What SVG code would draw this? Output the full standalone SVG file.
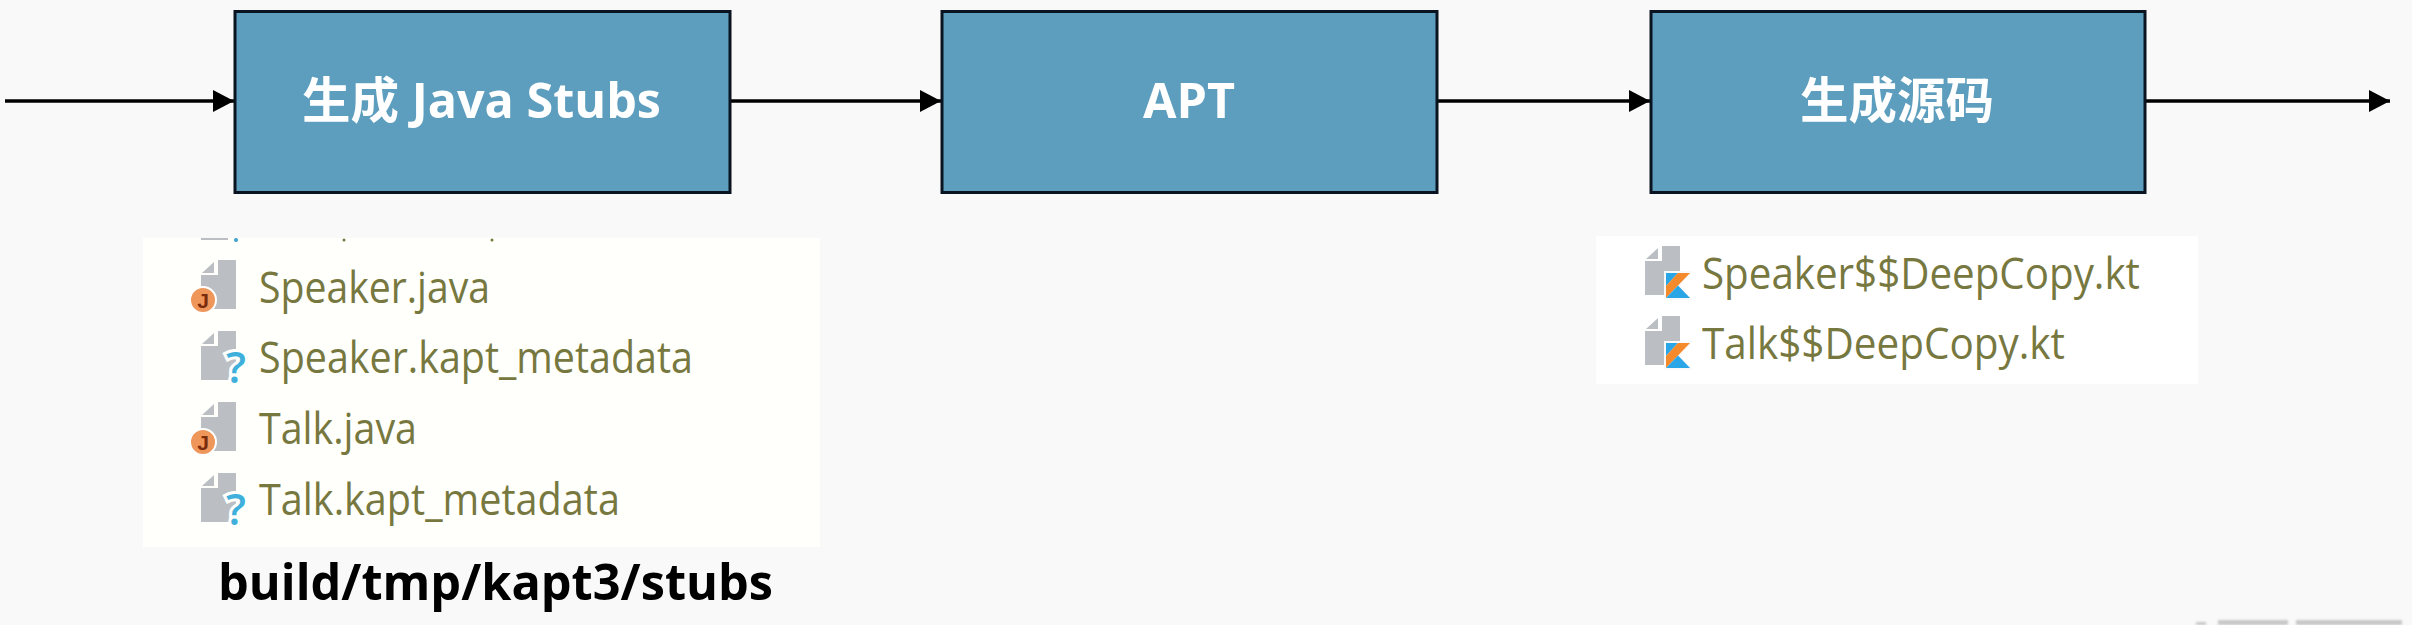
<svg xmlns="http://www.w3.org/2000/svg" width="2412" height="625" viewBox="0 0 2412 625">
<style>
.box{fill:#5d9dbd;stroke:#0a1420;stroke-width:3}
.lbl{font-family:"Open Sans","Noto Sans CJK SC",sans-serif;font-weight:700;font-size:48.500px;fill:#fff;text-anchor:middle}
.file{font-family:"Open Sans","Noto Sans",sans-serif;font-size:43px;fill:#77783f}
.path{font-family:"Open Sans","Noto Sans",sans-serif;font-weight:700;font-size:51px;fill:#000}
.conn{stroke:#000;stroke-width:3.500;fill:none;marker-end:url(#arrow)}
.doc{fill:#bbbfc3}
.j{font-family:"Liberation Sans",sans-serif;font-weight:700;font-size:21px;fill:#7a2c0c;text-anchor:middle}
.q{font-family:"Open Sans",sans-serif;font-weight:600;font-size:44px;fill:#3fb0dc;text-anchor:middle;stroke:#fffffb;stroke-width:6;paint-order:stroke}
.mark{fill:#c8c8c8}
</style>
<defs>
<marker id="arrow" markerUnits="userSpaceOnUse" markerWidth="22" markerHeight="24" refX="21" refY="12" orient="auto"><path d="M0 1L21 12L0 23Z" fill="#000"/></marker>
<filter id="soft" x="-5%" y="-100%" width="110%" height="300%"><feGaussianBlur stdDeviation="1.200"/></filter>
<g id="page"><path class="doc" d="M17 0H35V49H0V15H17Z"/><path class="doc" d="M13 2V13H1Z"/></g>
<g id="kt"><path d="M-2 -2H27L14 12.500L27 27H-2Z" fill="#f9f9f9"/><path d="M0 0H12L0 13Z" fill="#2aa6e6"/><path d="M12 0H24L0 25V13Z" fill="#f58a2c"/><path d="M0 25L12 12.500L24 25Z" fill="#2aa6e6"/></g>
</defs>
<rect width="2412" height="625" fill="#f9f9f9"/>
<g id="connectors">
<path class="conn" d="M5 101H234"/>
<path class="conn" d="M730 101H941"/>
<path class="conn" d="M1437 101H1650"/>
<path class="conn" d="M2145 101H2390"/>
</g>
<g id="node-stubs"><rect class="box" x="235" y="11.500" width="495" height="181"/><text class="lbl" x="481.500" y="118">生成 Java Stubs</text></g>
<g id="node-apt"><rect class="box" x="942" y="11.500" width="495" height="181"/><text class="lbl" x="1189" y="118">APT</text></g>
<g id="node-source"><rect class="box" x="1651" y="11.500" width="494" height="181"/><text class="lbl" x="1897" y="118">生成源码</text></g>
<g id="panel-stubs">
<rect x="143" y="238" width="677" height="309" fill="#fffffb"/>
<path d="M201 239H228" stroke="#bbbfc3" stroke-width="2"/><circle cx="236" cy="240" r="2" fill="#3fa0c8"/><circle cx="344" cy="240" r="1.500" fill="#77783f"/><circle cx="492" cy="240" r="1.500" fill="#77783f"/>
<use href="#page" x="201" y="260"/><circle cx="203" cy="300" r="13" fill="#ef965a" stroke="#fff" stroke-width="2"/><text class="j" x="203" y="308">J</text>
<text class="file" x="259" y="303" textLength="231" lengthAdjust="spacingAndGlyphs">Speaker.java</text>
<use href="#page" x="201" y="331"/><text class="q" x="236" y="383">?</text>
<text class="file" x="259" y="373" textLength="434" lengthAdjust="spacingAndGlyphs">Speaker.kapt_metadata</text>
<use href="#page" x="201" y="402"/><circle cx="203" cy="442" r="13" fill="#ef965a" stroke="#fff" stroke-width="2"/><text class="j" x="203" y="450">J</text>
<text class="file" x="259" y="443.500" textLength="158" lengthAdjust="spacingAndGlyphs">Talk.java</text>
<use href="#page" x="201" y="473"/><text class="q" x="236" y="525">?</text>
<text class="file" x="259" y="514.500" textLength="361" lengthAdjust="spacingAndGlyphs">Talk.kapt_metadata</text>
</g>
<text id="path-label" class="path" x="218" y="600" textLength="555" lengthAdjust="spacingAndGlyphs">build/tmp/kapt3/stubs</text>
<g id="panel-source">
<rect x="1596" y="236" width="602" height="148" fill="#fff"/>
<use href="#page" x="1645" y="246"/><use href="#kt" x="1666" y="273"/>
<text class="file" x="1702" y="288.500" textLength="438" lengthAdjust="spacingAndGlyphs">Speaker$$DeepCopy.kt</text>
<use href="#page" x="1645" y="316"/><use href="#kt" x="1666" y="343"/>
<text class="file" x="1702" y="358.500" textLength="363" lengthAdjust="spacingAndGlyphs">Talk$$DeepCopy.kt</text>
</g>
<g id="corner-mark" filter="url(#soft)"><rect class="mark" x="2196" y="622" width="10" height="3"/><rect class="mark" x="2218" y="620" width="70" height="5"/><rect class="mark" x="2296" y="620" width="106" height="5"/></g>
</svg>
